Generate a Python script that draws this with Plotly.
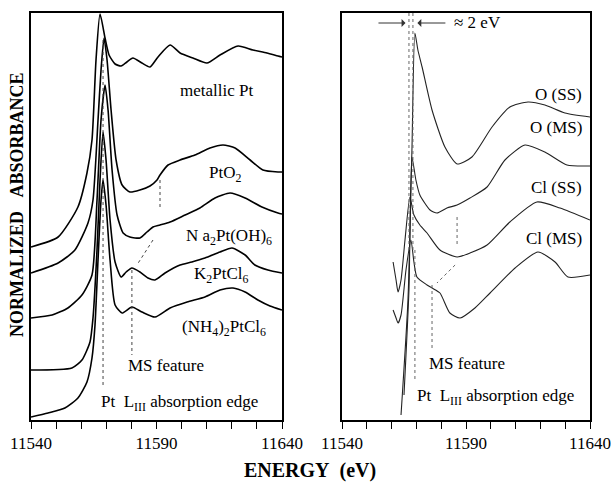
import plotly.graph_objects as go

# ---------------- Left panel: experimental spectra ----------------
pt_metal_E = [11540, 11550.8, 11558.7, 11562.3, 11564.3, 11565.9, 11567.5, 11569.5, 11571.1, 11573.5, 11575.9,
              11578.2, 11580.6, 11584.2, 11587.4, 11590.6, 11595.4, 11599.4, 11604.5, 11610.1, 11615.3, 11622.5,
              11628.4, 11634.0, 11638.4, 11640]
pt_metal_A = [1.73, 1.83, 2.13, 2.47, 2.80, 3.60, 4.06, 3.82, 3.65, 3.56, 3.54,
              3.58, 3.62, 3.57, 3.53, 3.63, 3.75, 3.67, 3.62, 3.57, 3.65, 3.74,
              3.70, 3.67, 3.64, 3.63]

pto2_E = [11540, 11550.8, 11557.5, 11562.7, 11564.7, 11566.7, 11567.9, 11569.1, 11570.3, 11571.9, 11573.9,
          11576.3, 11579.4, 11583.4, 11587.4, 11590.2, 11591.4, 11594.6, 11599.4, 11605.3, 11611.3, 11616.5,
          11621.3, 11627.3, 11632.4, 11638.4, 11640]
pto2_A = [1.47, 1.57, 1.70, 1.97, 2.20, 3.00, 3.50, 3.82, 3.60, 3.10, 2.60,
          2.35, 2.28, 2.30, 2.34, 2.40, 2.45, 2.55, 2.60, 2.65, 2.72, 2.75,
          2.72, 2.60, 2.50, 2.48, 2.48]

na_E = [11540, 11548.4, 11554.7, 11560.3, 11564.3, 11566.3, 11567.9, 11569.5, 11570.7, 11572.3, 11574.3,
        11576.7, 11579.4, 11583.4, 11586.2, 11588.6, 11591.4, 11595.4, 11601.4, 11607.3, 11613.3, 11619.3,
        11625.3, 11632.0, 11638.4, 11640]
na_A = [1.02, 1.05, 1.12, 1.25, 1.45, 2.20, 3.00, 3.35, 3.10, 2.50, 2.05,
        1.87, 1.83, 1.82, 1.88, 1.93, 1.95, 1.98, 2.05, 2.12, 2.22, 2.27,
        2.22, 2.13, 2.07, 2.06]

k_E = [11540, 11556.3, 11560.3, 11563.5, 11564.7, 11566.3, 11567.5, 11568.7, 11569.9, 11571.5, 11573.5,
       11575.9, 11577.9, 11580.2, 11583.4, 11586.6, 11589.4, 11593.4, 11599.4, 11604.1, 11609.3, 11615.3,
       11620.1, 11625.3, 11629.2, 11634.4, 11640]
k_A = [0.50, 0.52, 0.60, 0.78, 1.02, 1.70, 2.40, 2.88, 2.60, 2.00, 1.58,
       1.43, 1.48, 1.52, 1.48, 1.42, 1.40, 1.47, 1.55, 1.58, 1.62, 1.68,
       1.72, 1.65, 1.55, 1.50, 1.47]

nh4_E = [11540, 11546.8, 11553.5, 11558.7, 11562.3, 11564.3, 11565.5, 11566.7, 11567.9, 11568.7, 11569.9,
         11571.5, 11573.5, 11576.3, 11580.2, 11584.2, 11589.4, 11595.4, 11602.2, 11609.3, 11615.3, 11620.5,
         11625.3, 11630.4, 11635.2, 11640]
nh4_A = [0.03, 0.07, 0.12, 0.22, 0.38, 0.62, 0.95, 1.60, 2.20, 2.40, 2.15,
         1.60, 1.15, 1.07, 1.13, 1.08, 1.03, 1.12, 1.18, 1.23, 1.30, 1.32,
         1.28, 1.20, 1.14, 1.10]

# ---------------- Right panel: calculated spectra ----------------
oss_E = [11563.8, 11566.6, 11568.2, 11569.4, 11570.6, 11572.3, 11576.3, 11581.5, 11586.4, 11592.4, 11600.5,
         11607.7, 11615.0, 11621.8, 11629.9, 11640]
oss_A = [0.05, 1.20, 2.70, 3.87, 3.70, 3.53, 3.10, 2.73, 2.56, 2.63, 2.93,
         3.13, 3.18, 3.15, 3.07, 3.03]

oms_E = [11565.0, 11567.0, 11568.2, 11569.8, 11571.4, 11575.5, 11578.3, 11582.3, 11586.4, 11591.6, 11598.5,
         11605.7, 11613.8, 11621.8, 11630.7, 11640]
oms_A = [0.25, 1.30, 2.63, 2.40, 2.25, 2.10, 2.07, 2.12, 2.15, 2.22, 2.33,
         2.60, 2.75, 2.68, 2.55, 2.54]

clss_E = [11560.6, 11561.8, 11562.6, 11563.8, 11565.4, 11567.4, 11569.0, 11571.4, 11574.3, 11579.5, 11586.4,
          11591.6, 11598.5, 11607.7, 11618.6, 11627.9, 11640]
clss_A = [1.58, 1.40, 1.28, 1.40, 1.80, 2.23, 2.05, 1.95, 1.87, 1.70, 1.63,
          1.67, 1.75, 1.98, 2.18, 2.12, 2.00]

clms_E = [11560.6, 11561.8, 11562.6, 11563.8, 11565.8, 11567.8, 11569.0, 11570.2, 11574.3, 11576.3, 11579.5,
          11583.5, 11587.6, 11593.6, 11599.7, 11609.8, 11619.0, 11625.9, 11631.1, 11640]
clms_A = [1.10, 1.02, 0.97, 1.05, 1.50, 1.80, 1.58, 1.43, 1.35, 1.32, 1.27,
          1.07, 1.02, 1.12, 1.27, 1.52, 1.68, 1.58, 1.43, 1.45]

# dotted guide lines: (E0, A0, E1, A1)
left_guides = [(11568.7, 3.80, 11568.7, 0.33),
               (11591.4, 2.40, 11591.4, 2.12),
               (11588.6, 1.80, 11582.2, 1.55),
               (11580.2, 1.50, 11580.2, 0.65)]
right_guides = [(11567.0, 4.07, 11567.0, 1.70),
                (11568.6, 4.07, 11568.6, 1.70),
                (11569.4, 1.70, 11569.4, 0.40),
                (11576.3, 1.35, 11576.3, 0.70),
                (11586.4, 2.03, 11586.4, 1.75),
                (11585.6, 1.55, 11578.3, 1.37)]

tick_vals = list(range(11540, 11641, 10))
tick_text = ["11540" if v == 11540 else "11590" if v == 11590 else "11640" if v == 11640 else " " for v in tick_vals]

FONT = "Liberation Serif, Times New Roman, serif"

W, H = 616, 483


def px(x):
    return x / W


def py(y):
    return 1 - y / H


fig = go.Figure()

for E, A in [(pt_metal_E, pt_metal_A), (pto2_E, pto2_A), (na_E, na_A), (k_E, k_A), (nh4_E, nh4_A)]:
    fig.add_trace(go.Scatter(x=E, y=A, mode="lines", xaxis="x", yaxis="y",
                             line=dict(color="black", width=1.6, shape="spline", smoothing=0.6),
                             showlegend=False, hoverinfo="skip"))

for E, A in [(oss_E, oss_A), (oms_E, oms_A), (clss_E, clss_A), (clms_E, clms_A)]:
    fig.add_trace(go.Scatter(x=E, y=A, mode="lines", xaxis="x2", yaxis="y2",
                             line=dict(color="#222222", width=1.1, shape="spline", smoothing=0.6),
                             showlegend=False, hoverinfo="skip"))

for (e0, a0, e1, a1) in left_guides:
    fig.add_trace(go.Scatter(x=[e0, e1], y=[a0, a1], mode="lines", xaxis="x", yaxis="y",
                             line=dict(color="#444444", width=1, dash="dot"),
                             showlegend=False, hoverinfo="skip"))
for (e0, a0, e1, a1) in right_guides:
    fig.add_trace(go.Scatter(x=[e0, e1], y=[a0, a1], mode="lines", xaxis="x2", yaxis="y2",
                             line=dict(color="#666666", width=1, dash="dot"),
                             showlegend=False, hoverinfo="skip"))

xdom1 = [px(31), px(282)]
xdom2 = [px(342), px(590)]
ydom = [py(420), py(13)]

axis_common = dict(range=[11540, 11640], showline=True, mirror=True, linecolor="black", linewidth=1.5,
                   ticks="outside", ticklen=7, tickwidth=1.2, tickcolor="black", automargin=False,
                   tickangle=0, tickvals=tick_vals, ticktext=tick_text, showgrid=False, zeroline=False,
                   tickfont=dict(family=FONT, size=17, color="black"))
yaxis_common = dict(range=[0, 4.07], showline=True, mirror=True, linecolor="black", linewidth=1.5,
                    showticklabels=False, ticks="", showgrid=False, zeroline=False, automargin=False)

fig.update_layout(
    width=W, height=H, margin=dict(l=0, r=0, t=0, b=0, autoexpand=False),
    paper_bgcolor="white", plot_bgcolor="white",
    xaxis=dict(domain=xdom1, anchor="y", **axis_common),
    xaxis2=dict(domain=xdom2, anchor="y2", **axis_common),
    yaxis=dict(domain=ydom, anchor="x", **yaxis_common),
    yaxis2=dict(domain=ydom, anchor="x2", **yaxis_common),
)

lab = dict(family=FONT, size=17, color="black")
left_labels = [
    ("metallic Pt", 11614.1, 3.29),
    ("PtO<sub>2</sub>", 11617.3, 2.46),
    ("N a<sub>2</sub>Pt(OH)<sub>6</sub>", 11618.9, 1.83),
    ("K<sub>2</sub>PtCl<sub>6</sub>", 11615.7, 1.45),
    ("(NH<sub>4</sub>)<sub>2</sub>PtCl<sub>6</sub>", 11617.0, 0.92),
    ("MS feature", 11593.8, 0.55),
    ("Pt  L<sub>III</sub> absorption edge", 11599.0, 0.17),
]
for t, x, y in left_labels:
    fig.add_annotation(text=t, x=x, y=y, xref="x", yref="y", showarrow=False, font=lab,
                       xanchor="center", yanchor="middle")

right_labels = [
    ("O (SS)", 11637.5, 3.25, "right"),
    ("O (MS)", 11637.5, 2.92, "right"),
    ("Cl (SS)", 11637.5, 2.33, "right"),
    ("Cl (MS)", 11637.5, 1.82, "right"),
    ("MS feature", 11590.4, 0.57, "center"),
    ("Pt  L<sub>III</sub> absorption edge", 11601.7, 0.23, "center"),
    ("\u2248 2 eV", 11584.4, 3.97, "left"),
]
for t, x, y, anc in right_labels:
    fig.add_annotation(text=t, x=x, y=y, xref="x2", yref="y2", showarrow=False, font=lab,
                       xanchor=anc, yanchor="middle")

# arrows marking the ~2 eV shift
fig.add_annotation(x=11565.6, y=3.97, ax=11554.1, ay=3.97, xref="x2", yref="y2", axref="x2", ayref="y2",
                   text="", showarrow=True, arrowhead=1, arrowsize=1.3, arrowwidth=1, arrowcolor="#333333")
fig.add_annotation(x=11570.4, y=3.97, ax=11582.3, ay=3.97, xref="x2", yref="y2", axref="x2", ayref="y2",
                   text="", showarrow=True, arrowhead=1, arrowsize=1.3, arrowwidth=1, arrowcolor="#333333")

fig.add_annotation(text="<b>ENERGY&nbsp;&nbsp;(eV)</b>", x=px(310), y=py(470), xref="paper", yref="paper",
                   showarrow=False, font=dict(family=FONT, size=20, color="black"),
                   xanchor="center", yanchor="middle")
fig.add_annotation(text="<b>NORMALIZED&nbsp;&nbsp;&nbsp;ABSORBANCE</b>", x=px(17), y=py(205),
                   xref="paper", yref="paper", showarrow=False, textangle=-90,
                   font=dict(family=FONT, size=18, color="black"), xanchor="center", yanchor="middle")

fig.write_html("out.html", config={"displayModeBar": False},
               post_script="document.body.style.margin='0';document.body.style.overflow='hidden';")
